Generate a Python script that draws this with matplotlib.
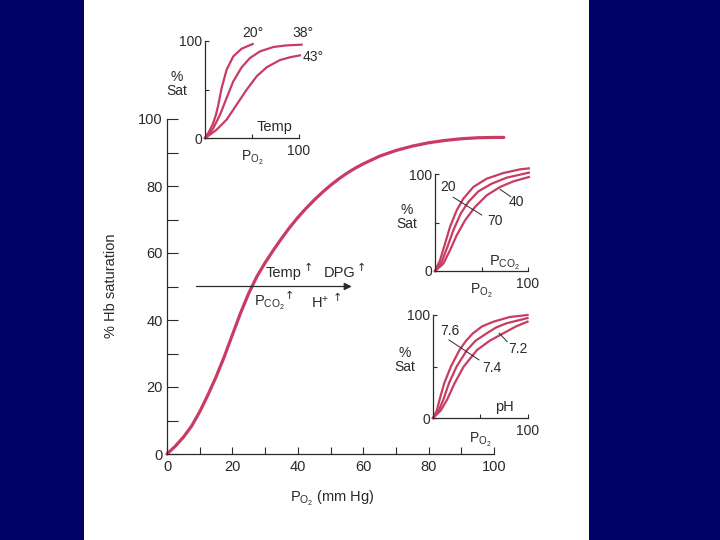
import matplotlib
matplotlib.use('Agg')
from matplotlib import pyplot as plt
from matplotlib.patches import Rectangle

plt.rcParams['font.family'] = ['Liberation Sans', 'DejaVu Sans']
plt.rcParams['mathtext.fontset'] = 'custom'
plt.rcParams['mathtext.rm'] = 'Liberation Sans'
plt.rcParams['mathtext.it'] = 'Liberation Sans'

# main dissociation curve
po2 = [0, 2.5, 5, 7.5, 10, 12.5, 15, 17.5, 20, 22.5, 25, 27.5, 30, 32.5, 35,
       37.5, 40, 42.5, 45, 47.5, 50, 52.5, 55, 57.5, 60, 65, 70, 75, 80, 85,
       90, 95, 100, 103]
hb_sat = [0, 2.3, 5.0, 8.3, 12.6, 17.6, 23.0, 29.0, 35.6, 42.1, 48.0, 53.0,
          57.1, 60.8, 64.3, 67.6, 70.6, 73.3, 75.8, 78.1, 80.2, 82.1, 83.8,
          85.3, 86.6, 88.9, 90.6, 91.9, 92.9, 93.6, 94.1, 94.4, 94.5, 94.5]

# temperature inset
t20_x = [0, 3.5, 8.2, 11.7, 14.2, 17.7, 23, 30.1, 39, 50.7]
t20_y = [0, 5.2, 14, 24, 34.4, 51.5, 70.4, 84.2, 92.1, 96.9]
t38_x = [0, 4, 8.9, 16, 23, 30.1, 39, 47.9, 58.5, 72.7, 86.9, 102.8]
t38_y = [0, 3.5, 10.3, 24, 41.2, 58.4, 72.9, 82.5, 89.3, 93.8, 95.5, 96.2]
t43_x = [0, 5.3, 12.4, 23, 33.7, 44.3, 55, 65.6, 79.8, 90.4, 101]
t43_y = [0, 3.4, 8.6, 18.9, 34.4, 49.8, 63.6, 72.9, 80.4, 83.2, 85.2]

# PCO2 inset
c20_x = [0, 5.4, 10.8, 16.1, 23.3, 30.5, 41.2, 55.6, 73.5, 91.4, 101]
c20_y = [0, 11, 28.2, 45.4, 62.5, 74.6, 86.6, 95.2, 101, 104.8, 105.8]
c40_x = [0, 7.2, 13.3, 19.7, 27.6, 35.8, 46.6, 60.9, 77, 101]
c40_y = [0, 9.3, 24.7, 41.9, 59.1, 71.1, 82.1, 90, 96.2, 101.4]
c70_x = [0, 9, 16.1, 23.3, 32.3, 43, 55.6, 69.9, 84.2, 101]
c70_y = [0, 7.6, 21.3, 36.8, 52.2, 66, 78, 86.6, 92.4, 96.9]

# pH inset
p76_x = [0, 4, 7, 12, 19, 28, 35, 42, 52, 64, 81, 100]
p76_y = [0, 7, 18, 34, 50, 66, 75, 82, 89, 93.5, 98, 100]
p74_x = [0, 6, 11, 17, 25, 36, 45, 56.5, 67, 78, 100]
p74_y = [0, 7, 18, 34, 50, 66, 75, 82, 88, 92, 97]
p72_x = [0, 8, 15, 23, 32.5, 46.6, 60, 74, 88, 100]
p72_y = [0, 7, 18, 34, 50, 66, 75, 82, 89, 93.5]

RED = '#c83c64'
INK = '#2a2a2a'
W, H = 720, 540
PO2_TXT = r'P$_{\mathrm{O_2}}$'
PCO2_TXT = r'P$_{\mathrm{CO_2}}$'


def px_box(left, base, w, h):
    # pixel box (left edge, y of the x axis, width, height) -> figure fraction
    return [left / W, (H - base) / H, w / W, h / H]


def make_inset(fig, box, curves, tag, tag_xy, notes, leaders):
    ax = fig.add_axes(px_box(*box))
    ax.patch.set_alpha(0)
    ax.set_xlim(0, 100)
    ax.set_ylim(0, 100)
    for s in ['top', 'right']:
        ax.spines[s].set_visible(False)
    for s in ['left', 'bottom']:
        ax.spines[s].set_color(INK)
        ax.spines[s].set_linewidth(0.9)
    ax.set_xticks([50, 100])
    ax.set_xticklabels(['', '100'])
    ax.set_yticks([0, 50, 100])
    ax.set_yticklabels(['0', '', '100'])
    ax.tick_params(direction='in', length=3, width=0.8, color=INK,
                   labelcolor=INK, labelsize=10)
    ax.tick_params(axis='x', pad=4)
    ax.tick_params(axis='y', pad=2)
    for xs, ys in curves:
        ax.plot(xs, ys, color=RED, lw=1.6, clip_on=False,
                solid_joinstyle='round')
    ax.text(-30, 56, '%\nSat', ha='center', va='center', fontsize=10,
            color=INK, linespacing=1.0)
    ax.text(50, -21, PO2_TXT, ha='center', va='center', fontsize=10,
            color=INK)
    ax.text(tag_xy[0], tag_xy[1], tag, ha='center', va='center',
            fontsize=10.5, color=INK)
    for label, x, y in notes:
        ax.text(x, y, label, ha='center', va='center', fontsize=10,
                color=INK, clip_on=False)
    for (x0, y0), (x1, y1) in leaders:
        ax.plot([x0, x1], [y0, y1], color=INK, lw=0.7, clip_on=False)
    return ax


def up_arrow(ax, x, y):
    ax.text(x, y, '↑', ha='center', va='center', fontsize=8,
            color=INK, family='DejaVu Sans')


def main():
    fig = plt.figure(figsize=(7.2, 5.4), dpi=100)
    fig.patch.set_facecolor('#000066')
    fig.patches.append(Rectangle((84 / W, 0), 505 / W, 1,
                                 transform=fig.transFigure,
                                 facecolor='white', edgecolor='none',
                                 zorder=-5))

    ax = fig.add_axes(px_box(167, 454, 327, 335))
    ax.patch.set_alpha(0)
    ax.set_xlim(0, 100)
    ax.set_ylim(0, 100)
    for s in ['top', 'right']:
        ax.spines[s].set_visible(False)
    for s in ['left', 'bottom']:
        ax.spines[s].set_color(INK)
        ax.spines[s].set_linewidth(0.9)
    ax.set_xticks(range(0, 101, 20))
    ax.set_xticks(range(10, 100, 20), minor=True)
    ax.set_yticks(range(0, 101, 20))
    ax.set_yticks(range(10, 100, 20), minor=True)
    ax.tick_params(which='both', direction='in', color=INK, width=0.8,
                   labelcolor=INK, labelsize=10.5)
    ax.tick_params(axis='x', which='both', length=5, pad=4.5)
    ax.tick_params(axis='y', which='both', length=8, pad=3)

    ax.plot(po2, hb_sat, color=RED, lw=2.3, clip_on=False,
            solid_capstyle='round', solid_joinstyle='round')

    ax.annotate('', xy=(56.5, 50), xytext=(9, 50),
                arrowprops=dict(arrowstyle='-|>', color=INK, lw=0.9,
                                mutation_scale=11, shrinkA=0, shrinkB=0))
    ax.text(35.6, 54, 'Temp', ha='center', va='center', fontsize=10.5,
            color=INK)
    up_arrow(ax, 43.1, 55.4)
    ax.text(52.9, 54, 'DPG', ha='center', va='center', fontsize=10.5,
            color=INK)
    up_arrow(ax, 59.5, 55.6)
    ax.text(31.4, 45, PCO2_TXT, ha='center', va='center', fontsize=10.5,
            color=INK)
    up_arrow(ax, 37.5, 47.2)
    ax.text(46.9, 45.2, r'H$^{+}$', ha='center', va='center', fontsize=10.5,
            color=INK)
    up_arrow(ax, 52.2, 46.7)

    fig.text(110.7 / W, 1 - 286 / H, '% Hb saturation', rotation=90,
             ha='center', va='center', fontsize=10.5, color=INK)
    fig.text(332 / W, 1 - 498 / H, PO2_TXT + ' (mm Hg)', ha='center',
             va='center', fontsize=10.5, color=INK)

    make_inset(fig, (205, 138, 94, 97),
               [(t20_x, t20_y), (t38_x, t38_y), (t43_x, t43_y)],
               'Temp', (74.5, 11.6),
               [('20°', 51.4, 108), ('38°', 104.6, 108), ('43°', 115, 83)],
               [])
    make_inset(fig, (435, 271, 93, 97),
               [(c20_x, c20_y), (c40_x, c40_y), (c70_x, c70_y)],
               PCO2_TXT, (75, 8),
               [('20', 14, 86.6), ('40', 88, 71), ('70', 64.5, 51.5)],
               [((19.7, 76), (50.2, 57.7)), ((70, 84.2), (81.4, 76.6))])
    make_inset(fig, (433, 418, 94.5, 103),
               [(p76_x, p76_y), (p74_x, p74_y), (p72_x, p72_y)],
               'pH', (76, 10.6),
               [('7.6', 17.7, 84), ('7.2', 89.7, 67), ('7.4', 62, 48.7)],
               [((16.9, 75.8), (48.7, 56.4)), ((70, 82.3), (78.5, 74.2))])

    fig.savefig('out.png', dpi=100, facecolor=fig.get_facecolor())
    plt.close(fig)


if __name__ == '__main__':
    main()
